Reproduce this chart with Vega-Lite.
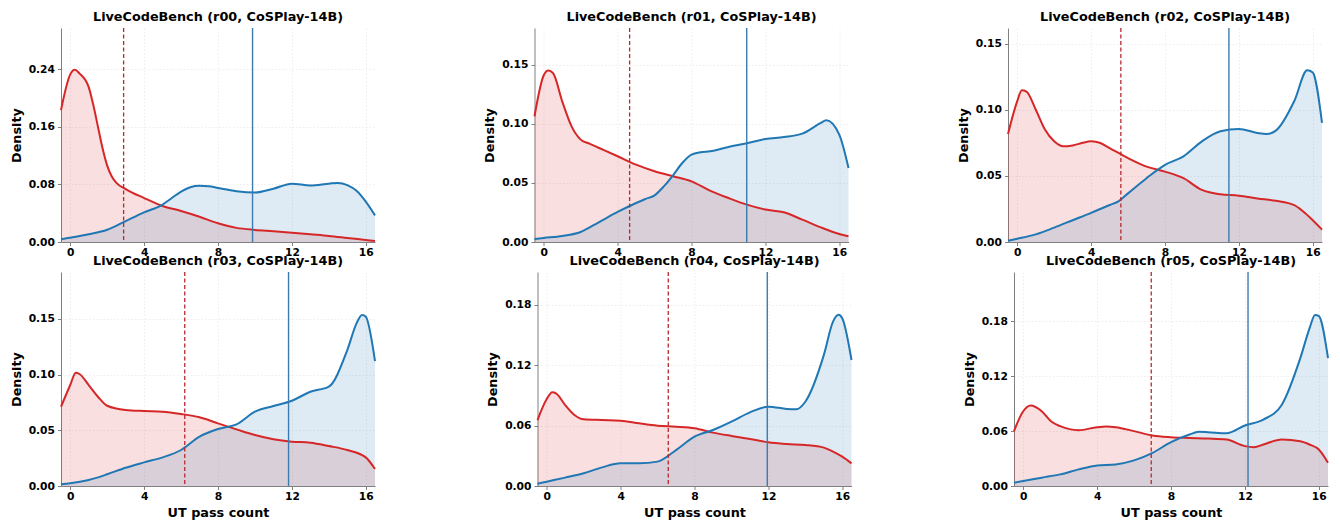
{
  "$schema": "https://vega.github.io/schema/vega-lite/v6.json",
  "padding": {"left": 10, "top": 10, "right": 5, "bottom": 5},
  "datasets": {
    "rows": [
      {"run":"r00","grp":"incorrect","x":-0.5,"y":0.183},{"run":"r00","grp":"incorrect","x":0,"y":0.2326},{"run":"r00","grp":"incorrect","x":0.25,"y":0.239},{"run":"r00","grp":"incorrect","x":0.5,"y":0.234},{"run":"r00","grp":"incorrect","x":1,"y":0.215},{"run":"r00","grp":"incorrect","x":1.25,"y":0.19},{"run":"r00","grp":"incorrect","x":1.5,"y":0.16},{"run":"r00","grp":"incorrect","x":1.75,"y":0.13},{"run":"r00","grp":"incorrect","x":2,"y":0.106},{"run":"r00","grp":"incorrect","x":2.25,"y":0.091},{"run":"r00","grp":"incorrect","x":2.5,"y":0.082},{"run":"r00","grp":"incorrect","x":3,"y":0.0735},{"run":"r00","grp":"incorrect","x":4,"y":0.061},{"run":"r00","grp":"incorrect","x":5,"y":0.05},{"run":"r00","grp":"incorrect","x":6,"y":0.043},{"run":"r00","grp":"incorrect","x":7,"y":0.035},{"run":"r00","grp":"incorrect","x":8,"y":0.026},{"run":"r00","grp":"incorrect","x":9,"y":0.0196},{"run":"r00","grp":"incorrect","x":10,"y":0.0168},{"run":"r00","grp":"incorrect","x":11,"y":0.015},{"run":"r00","grp":"incorrect","x":12,"y":0.013},{"run":"r00","grp":"incorrect","x":13,"y":0.0107},{"run":"r00","grp":"incorrect","x":14,"y":0.0084},{"run":"r00","grp":"incorrect","x":15,"y":0.0056},{"run":"r00","grp":"incorrect","x":16,"y":0.0028},{"run":"r00","grp":"incorrect","x":16.5,"y":0.0014},
      {"run":"r00","grp":"correct","x":-0.5,"y":0.0037},{"run":"r00","grp":"correct","x":0,"y":0.006},{"run":"r00","grp":"correct","x":1,"y":0.0107},{"run":"r00","grp":"correct","x":2,"y":0.017},{"run":"r00","grp":"correct","x":3,"y":0.029},{"run":"r00","grp":"correct","x":4,"y":0.041},{"run":"r00","grp":"correct","x":5,"y":0.052},{"run":"r00","grp":"correct","x":5.5,"y":0.061},{"run":"r00","grp":"correct","x":6,"y":0.07},{"run":"r00","grp":"correct","x":6.5,"y":0.076},{"run":"r00","grp":"correct","x":7,"y":0.078},{"run":"r00","grp":"correct","x":7.5,"y":0.0775},{"run":"r00","grp":"correct","x":8,"y":0.075},{"run":"r00","grp":"correct","x":9,"y":0.0705},{"run":"r00","grp":"correct","x":10,"y":0.0687},{"run":"r00","grp":"correct","x":11,"y":0.074},{"run":"r00","grp":"correct","x":12,"y":0.081},{"run":"r00","grp":"correct","x":13,"y":0.0785},{"run":"r00","grp":"correct","x":14,"y":0.081},{"run":"r00","grp":"correct","x":14.5,"y":0.082},{"run":"r00","grp":"correct","x":15,"y":0.079},{"run":"r00","grp":"correct","x":15.5,"y":0.071},{"run":"r00","grp":"correct","x":16,"y":0.056},{"run":"r00","grp":"correct","x":16.5,"y":0.037},
      {"run":"r00","grp":"incorrect","x":2.89},{"run":"r00","grp":"correct","x":9.87},

      {"run":"r01","grp":"incorrect","x":-0.5,"y":0.1063},{"run":"r01","grp":"incorrect","x":0,"y":0.141},{"run":"r01","grp":"incorrect","x":0.25,"y":0.145},{"run":"r01","grp":"incorrect","x":0.5,"y":0.143},{"run":"r01","grp":"incorrect","x":1,"y":0.119},{"run":"r01","grp":"incorrect","x":1.5,"y":0.098},{"run":"r01","grp":"incorrect","x":2,"y":0.0866},{"run":"r01","grp":"incorrect","x":2.5,"y":0.083},{"run":"r01","grp":"incorrect","x":3,"y":0.0795},{"run":"r01","grp":"incorrect","x":4,"y":0.0725},{"run":"r01","grp":"incorrect","x":5,"y":0.0654},{"run":"r01","grp":"incorrect","x":6,"y":0.0598},{"run":"r01","grp":"incorrect","x":7,"y":0.0556},{"run":"r01","grp":"incorrect","x":8,"y":0.0513},{"run":"r01","grp":"incorrect","x":9,"y":0.0434},{"run":"r01","grp":"incorrect","x":10,"y":0.0372},{"run":"r01","grp":"incorrect","x":11,"y":0.0316},{"run":"r01","grp":"incorrect","x":12,"y":0.0274},{"run":"r01","grp":"incorrect","x":13,"y":0.0251},{"run":"r01","grp":"incorrect","x":14,"y":0.0189},{"run":"r01","grp":"incorrect","x":15,"y":0.0124},{"run":"r01","grp":"incorrect","x":16,"y":0.0068},{"run":"r01","grp":"incorrect","x":16.5,"y":0.0048},
      {"run":"r01","grp":"correct","x":-0.5,"y":0.0025},{"run":"r01","grp":"correct","x":0,"y":0.0034},{"run":"r01","grp":"correct","x":1,"y":0.0051},{"run":"r01","grp":"correct","x":2,"y":0.0085},{"run":"r01","grp":"correct","x":3,"y":0.0169},{"run":"r01","grp":"correct","x":4,"y":0.0254},{"run":"r01","grp":"correct","x":5,"y":0.033},{"run":"r01","grp":"correct","x":5.5,"y":0.0364},{"run":"r01","grp":"correct","x":6,"y":0.0395},{"run":"r01","grp":"correct","x":6.5,"y":0.047},{"run":"r01","grp":"correct","x":7,"y":0.0564},{"run":"r01","grp":"correct","x":7.5,"y":0.0668},{"run":"r01","grp":"correct","x":8,"y":0.0739},{"run":"r01","grp":"correct","x":8.5,"y":0.0759},{"run":"r01","grp":"correct","x":9,"y":0.0767},{"run":"r01","grp":"correct","x":10,"y":0.0804},{"run":"r01","grp":"correct","x":11,"y":0.0835},{"run":"r01","grp":"correct","x":12,"y":0.0871},{"run":"r01","grp":"correct","x":13,"y":0.0888},{"run":"r01","grp":"correct","x":14,"y":0.0917},{"run":"r01","grp":"correct","x":15,"y":0.1007},{"run":"r01","grp":"correct","x":15.3,"y":0.103},{"run":"r01","grp":"correct","x":16,"y":0.0908},{"run":"r01","grp":"correct","x":16.5,"y":0.0626},
      {"run":"r01","grp":"incorrect","x":4.65},{"run":"r01","grp":"correct","x":10.99},

      {"run":"r02","grp":"incorrect","x":-0.5,"y":0.0818},{"run":"r02","grp":"incorrect","x":0,"y":0.1067},{"run":"r02","grp":"incorrect","x":0.25,"y":0.1148},{"run":"r02","grp":"incorrect","x":0.5,"y":0.1138},{"run":"r02","grp":"incorrect","x":1,"y":0.1003},{"run":"r02","grp":"incorrect","x":1.5,"y":0.0851},{"run":"r02","grp":"incorrect","x":2,"y":0.0762},{"run":"r02","grp":"incorrect","x":2.5,"y":0.0724},{"run":"r02","grp":"incorrect","x":3,"y":0.0731},{"run":"r02","grp":"incorrect","x":3.5,"y":0.0749},{"run":"r02","grp":"incorrect","x":4,"y":0.0762},{"run":"r02","grp":"incorrect","x":4.5,"y":0.0749},{"run":"r02","grp":"incorrect","x":5,"y":0.0711},{"run":"r02","grp":"incorrect","x":6,"y":0.0635},{"run":"r02","grp":"incorrect","x":7,"y":0.0571},{"run":"r02","grp":"incorrect","x":8,"y":0.0533},{"run":"r02","grp":"incorrect","x":9,"y":0.0483},{"run":"r02","grp":"incorrect","x":10,"y":0.0394},{"run":"r02","grp":"incorrect","x":11,"y":0.0361},{"run":"r02","grp":"incorrect","x":12,"y":0.0351},{"run":"r02","grp":"incorrect","x":13,"y":0.033},{"run":"r02","grp":"incorrect","x":14,"y":0.0312},{"run":"r02","grp":"incorrect","x":15,"y":0.0279},{"run":"r02","grp":"incorrect","x":15.5,"y":0.0229},{"run":"r02","grp":"incorrect","x":16,"y":0.0165},{"run":"r02","grp":"incorrect","x":16.5,"y":0.0094},
      {"run":"r02","grp":"correct","x":-0.5,"y":0.001},{"run":"r02","grp":"correct","x":0,"y":0.0025},{"run":"r02","grp":"correct","x":1,"y":0.0058},{"run":"r02","grp":"correct","x":2,"y":0.0109},{"run":"r02","grp":"correct","x":3,"y":0.0165},{"run":"r02","grp":"correct","x":4,"y":0.0221},{"run":"r02","grp":"correct","x":5,"y":0.028},{"run":"r02","grp":"correct","x":5.5,"y":0.031},{"run":"r02","grp":"correct","x":6,"y":0.0368},{"run":"r02","grp":"correct","x":7,"y":0.0483},{"run":"r02","grp":"correct","x":8,"y":0.0584},{"run":"r02","grp":"correct","x":9,"y":0.0648},{"run":"r02","grp":"correct","x":10,"y":0.0762},{"run":"r02","grp":"correct","x":11,"y":0.0838},{"run":"r02","grp":"correct","x":12,"y":0.0856},{"run":"r02","grp":"correct","x":13,"y":0.0826},{"run":"r02","grp":"correct","x":13.5,"y":0.0818},{"run":"r02","grp":"correct","x":14,"y":0.0843},{"run":"r02","grp":"correct","x":15,"y":0.1067},{"run":"r02","grp":"correct","x":15.7,"y":0.13},{"run":"r02","grp":"correct","x":16,"y":0.1283},{"run":"r02","grp":"correct","x":16.5,"y":0.0902},
      {"run":"r02","grp":"incorrect","x":5.61},{"run":"r02","grp":"correct","x":11.46},

      {"run":"r03","grp":"incorrect","x":-0.5,"y":0.0711},{"run":"r03","grp":"incorrect","x":0,"y":0.0906},{"run":"r03","grp":"incorrect","x":0.3,"y":0.1017},{"run":"r03","grp":"incorrect","x":0.5,"y":0.1005},{"run":"r03","grp":"incorrect","x":1,"y":0.0906},{"run":"r03","grp":"incorrect","x":1.5,"y":0.0801},{"run":"r03","grp":"incorrect","x":2,"y":0.072},{"run":"r03","grp":"incorrect","x":3,"y":0.0682},{"run":"r03","grp":"incorrect","x":4,"y":0.0673},{"run":"r03","grp":"incorrect","x":5,"y":0.0667},{"run":"r03","grp":"incorrect","x":6,"y":0.0646},{"run":"r03","grp":"incorrect","x":7,"y":0.0616},{"run":"r03","grp":"incorrect","x":8,"y":0.0562},{"run":"r03","grp":"incorrect","x":9,"y":0.0508},{"run":"r03","grp":"incorrect","x":10,"y":0.0457},{"run":"r03","grp":"incorrect","x":11,"y":0.0419},{"run":"r03","grp":"incorrect","x":12,"y":0.0398},{"run":"r03","grp":"incorrect","x":13,"y":0.0389},{"run":"r03","grp":"incorrect","x":14,"y":0.0359},{"run":"r03","grp":"incorrect","x":15,"y":0.0323},{"run":"r03","grp":"incorrect","x":16,"y":0.0257},{"run":"r03","grp":"incorrect","x":16.5,"y":0.0152},
      {"run":"r03","grp":"correct","x":-0.5,"y":0.0015},{"run":"r03","grp":"correct","x":0,"y":0.0024},{"run":"r03","grp":"correct","x":1,"y":0.0054},{"run":"r03","grp":"correct","x":2,"y":0.0105},{"run":"r03","grp":"correct","x":3,"y":0.0164},{"run":"r03","grp":"correct","x":4,"y":0.0212},{"run":"r03","grp":"correct","x":5,"y":0.0257},{"run":"r03","grp":"correct","x":6,"y":0.0323},{"run":"r03","grp":"correct","x":7,"y":0.0443},{"run":"r03","grp":"correct","x":8,"y":0.0511},{"run":"r03","grp":"correct","x":9,"y":0.0553},{"run":"r03","grp":"correct","x":10,"y":0.0667},{"run":"r03","grp":"correct","x":11,"y":0.0718},{"run":"r03","grp":"correct","x":12,"y":0.0765},{"run":"r03","grp":"correct","x":13,"y":0.0846},{"run":"r03","grp":"correct","x":14,"y":0.0891},{"run":"r03","grp":"correct","x":15,"y":0.122},{"run":"r03","grp":"correct","x":15.5,"y":0.1459},{"run":"r03","grp":"correct","x":15.8,"y":0.1534},{"run":"r03","grp":"correct","x":16,"y":0.1519},{"run":"r03","grp":"correct","x":16.5,"y":0.1121},
      {"run":"r03","grp":"incorrect","x":6.2},{"run":"r03","grp":"correct","x":11.82},

      {"run":"r04","grp":"incorrect","x":-0.5,"y":0.0655},{"run":"r04","grp":"incorrect","x":0,"y":0.0864},{"run":"r04","grp":"incorrect","x":0.3,"y":0.093},{"run":"r04","grp":"incorrect","x":0.5,"y":0.092},{"run":"r04","grp":"incorrect","x":1,"y":0.0804},{"run":"r04","grp":"incorrect","x":1.5,"y":0.0705},{"run":"r04","grp":"incorrect","x":2,"y":0.0662},{"run":"r04","grp":"incorrect","x":3,"y":0.0655},{"run":"r04","grp":"incorrect","x":4,"y":0.0649},{"run":"r04","grp":"incorrect","x":5,"y":0.0622},{"run":"r04","grp":"incorrect","x":6,"y":0.0599},{"run":"r04","grp":"incorrect","x":7,"y":0.0589},{"run":"r04","grp":"incorrect","x":8,"y":0.0573},{"run":"r04","grp":"incorrect","x":9,"y":0.053},{"run":"r04","grp":"incorrect","x":10,"y":0.0497},{"run":"r04","grp":"incorrect","x":11,"y":0.0467},{"run":"r04","grp":"incorrect","x":12,"y":0.0434},{"run":"r04","grp":"incorrect","x":13,"y":0.0417},{"run":"r04","grp":"incorrect","x":14,"y":0.0407},{"run":"r04","grp":"incorrect","x":15,"y":0.0381},{"run":"r04","grp":"incorrect","x":15.5,"y":0.0341},{"run":"r04","grp":"incorrect","x":16,"y":0.0291},{"run":"r04","grp":"incorrect","x":16.5,"y":0.0225},
      {"run":"r04","grp":"correct","x":-0.5,"y":0.0023},{"run":"r04","grp":"correct","x":0,"y":0.0043},{"run":"r04","grp":"correct","x":1,"y":0.0083},{"run":"r04","grp":"correct","x":2,"y":0.0126},{"run":"r04","grp":"correct","x":3,"y":0.0185},{"run":"r04","grp":"correct","x":4,"y":0.0225},{"run":"r04","grp":"correct","x":5,"y":0.0225},{"run":"r04","grp":"correct","x":6,"y":0.0242},{"run":"r04","grp":"correct","x":7,"y":0.0357},{"run":"r04","grp":"correct","x":8,"y":0.049},{"run":"r04","grp":"correct","x":9,"y":0.0556},{"run":"r04","grp":"correct","x":10,"y":0.0639},{"run":"r04","grp":"correct","x":11,"y":0.0731},{"run":"r04","grp":"correct","x":12,"y":0.0788},{"run":"r04","grp":"correct","x":13,"y":0.0765},{"run":"r04","grp":"correct","x":13.5,"y":0.0761},{"run":"r04","grp":"correct","x":14,"y":0.0837},{"run":"r04","grp":"correct","x":15,"y":0.13},{"run":"r04","grp":"correct","x":15.5,"y":0.1632},{"run":"r04","grp":"correct","x":15.8,"y":0.17},{"run":"r04","grp":"correct","x":16,"y":0.1665},{"run":"r04","grp":"correct","x":16.5,"y":0.1251},
      {"run":"r04","grp":"incorrect","x":6.58},{"run":"r04","grp":"correct","x":11.94},

      {"run":"r05","grp":"incorrect","x":-0.5,"y":0.06},{"run":"r05","grp":"incorrect","x":0,"y":0.0817},{"run":"r05","grp":"incorrect","x":0.4,"y":0.088},{"run":"r05","grp":"incorrect","x":1,"y":0.0817},{"run":"r05","grp":"incorrect","x":1.5,"y":0.0708},{"run":"r05","grp":"incorrect","x":2,"y":0.0654},{"run":"r05","grp":"incorrect","x":3,"y":0.061},{"run":"r05","grp":"incorrect","x":4,"y":0.0643},{"run":"r05","grp":"incorrect","x":4.5,"y":0.065},{"run":"r05","grp":"incorrect","x":5,"y":0.0643},{"run":"r05","grp":"incorrect","x":6,"y":0.06},{"run":"r05","grp":"incorrect","x":7,"y":0.0552},{"run":"r05","grp":"incorrect","x":8,"y":0.0534},{"run":"r05","grp":"incorrect","x":9,"y":0.0526},{"run":"r05","grp":"incorrect","x":10,"y":0.0519},{"run":"r05","grp":"incorrect","x":11,"y":0.0508},{"run":"r05","grp":"incorrect","x":12,"y":0.0436},{"run":"r05","grp":"incorrect","x":12.5,"y":0.0425},{"run":"r05","grp":"incorrect","x":13,"y":0.0454},{"run":"r05","grp":"incorrect","x":14,"y":0.0508},{"run":"r05","grp":"incorrect","x":15,"y":0.049},{"run":"r05","grp":"incorrect","x":15.5,"y":0.0454},{"run":"r05","grp":"incorrect","x":16,"y":0.0399},{"run":"r05","grp":"incorrect","x":16.5,"y":0.0254},
      {"run":"r05","grp":"correct","x":-0.5,"y":0.0036},{"run":"r05","grp":"correct","x":0,"y":0.0054},{"run":"r05","grp":"correct","x":1,"y":0.0091},{"run":"r05","grp":"correct","x":2,"y":0.0127},{"run":"r05","grp":"correct","x":3,"y":0.0182},{"run":"r05","grp":"correct","x":4,"y":0.0225},{"run":"r05","grp":"correct","x":5,"y":0.0236},{"run":"r05","grp":"correct","x":6,"y":0.028},{"run":"r05","grp":"correct","x":7,"y":0.0363},{"run":"r05","grp":"correct","x":8,"y":0.0479},{"run":"r05","grp":"correct","x":9,"y":0.0563},{"run":"r05","grp":"correct","x":9.5,"y":0.0592},{"run":"r05","grp":"correct","x":10,"y":0.0588},{"run":"r05","grp":"correct","x":11,"y":0.0577},{"run":"r05","grp":"correct","x":12,"y":0.0661},{"run":"r05","grp":"correct","x":13,"y":0.0726},{"run":"r05","grp":"correct","x":14,"y":0.0889},{"run":"r05","grp":"correct","x":15,"y":0.1398},{"run":"r05","grp":"correct","x":15.5,"y":0.1724},{"run":"r05","grp":"correct","x":15.8,"y":0.187},{"run":"r05","grp":"correct","x":16,"y":0.1859},{"run":"r05","grp":"correct","x":16.5,"y":0.1398},
      {"run":"r05","grp":"incorrect","x":6.93},{"run":"r05","grp":"correct","x":12.17}
    ]
  },
  "vconcat": [
    {
      "spacing": 104.5,
      "hconcat": [
        {
          "width": 314, "height": 214,
          "title": "LiveCodeBench (r00, CoSPlay-14B)",
          "data": {"name": "rows"},
          "transform": [{"filter": "datum.run === 'r00'"}],
          "encoding": {"x": {"field": "x", "type": "quantitative", "scale": {"domain": [-0.5, 16.5], "nice": false, "zero": false}, "axis": {"values": [0, 4, 8, 12, 16], "format": "d", "title": null}}},
          "layer": [
            {"transform": [{"filter": "isValid(datum.y)"}], "mark": {"type": "area", "interpolate": "monotone", "fillOpacity": 0.15}, "encoding": {"y": {"field": "y", "type": "quantitative", "stack": null, "scale": {"domain": [0, 0.297], "nice": false}, "axis": {"values": [0, 0.08, 0.16, 0.24], "format": ".2f", "title": "Density"}}, "color": {"field": "grp", "type": "nominal", "scale": {"domain": ["incorrect", "correct"], "range": ["#d62728", "#1f77b4"]}, "legend": null}}},
            {"transform": [{"filter": "isValid(datum.y)"}], "mark": {"type": "line", "interpolate": "monotone", "strokeWidth": 2}, "encoding": {"y": {"field": "y", "type": "quantitative", "stack": null, "scale": {"domain": [0, 0.297], "nice": false}, "axis": {"values": [0, 0.08, 0.16, 0.24], "format": ".2f", "title": "Density"}}, "color": {"field": "grp", "type": "nominal", "scale": {"domain": ["incorrect", "correct"], "range": ["#d62728", "#1f77b4"]}, "legend": null}}},
            {"transform": [{"filter": "!isValid(datum.y) && datum.grp === 'incorrect'"}], "mark": {"type": "rule", "color": "#b8282d", "strokeWidth": 1.3, "strokeDash": [4, 2.5]}, "encoding": {}},
            {"transform": [{"filter": "!isValid(datum.y) && datum.grp === 'correct'"}], "mark": {"type": "rule", "color": "#3b7bb0", "strokeWidth": 1.4}, "encoding": {}}
          ]
        },
        {
          "width": 314, "height": 214,
          "title": "LiveCodeBench (r01, CoSPlay-14B)",
          "data": {"name": "rows"},
          "transform": [{"filter": "datum.run === 'r01'"}],
          "encoding": {"x": {"field": "x", "type": "quantitative", "scale": {"domain": [-0.5, 16.5], "nice": false, "zero": false}, "axis": {"values": [0, 4, 8, 12, 16], "format": "d", "title": null}}},
          "layer": [
            {"transform": [{"filter": "isValid(datum.y)"}], "mark": {"type": "area", "interpolate": "monotone", "fillOpacity": 0.15}, "encoding": {"y": {"field": "y", "type": "quantitative", "stack": null, "scale": {"domain": [0, 0.181], "nice": false}, "axis": {"values": [0, 0.05, 0.1, 0.15], "format": ".2f", "title": "Density"}}, "color": {"field": "grp", "type": "nominal", "scale": {"domain": ["incorrect", "correct"], "range": ["#d62728", "#1f77b4"]}, "legend": null}}},
            {"transform": [{"filter": "isValid(datum.y)"}], "mark": {"type": "line", "interpolate": "monotone", "strokeWidth": 2}, "encoding": {"y": {"field": "y", "type": "quantitative", "stack": null, "scale": {"domain": [0, 0.181], "nice": false}, "axis": {"values": [0, 0.05, 0.1, 0.15], "format": ".2f", "title": "Density"}}, "color": {"field": "grp", "type": "nominal", "scale": {"domain": ["incorrect", "correct"], "range": ["#d62728", "#1f77b4"]}, "legend": null}}},
            {"transform": [{"filter": "!isValid(datum.y) && datum.grp === 'incorrect'"}], "mark": {"type": "rule", "color": "#b8282d", "strokeWidth": 1.3, "strokeDash": [4, 2.5]}, "encoding": {}},
            {"transform": [{"filter": "!isValid(datum.y) && datum.grp === 'correct'"}], "mark": {"type": "rule", "color": "#3b7bb0", "strokeWidth": 1.4}, "encoding": {}}
          ]
        },
        {
          "width": 314, "height": 214,
          "title": "LiveCodeBench (r02, CoSPlay-14B)",
          "data": {"name": "rows"},
          "transform": [{"filter": "datum.run === 'r02'"}],
          "encoding": {"x": {"field": "x", "type": "quantitative", "scale": {"domain": [-0.5, 16.5], "nice": false, "zero": false}, "axis": {"values": [0, 4, 8, 12, 16], "format": "d", "title": null}}},
          "layer": [
            {"transform": [{"filter": "isValid(datum.y)"}], "mark": {"type": "area", "interpolate": "monotone", "fillOpacity": 0.15}, "encoding": {"y": {"field": "y", "type": "quantitative", "stack": null, "scale": {"domain": [0, 0.162], "nice": false}, "axis": {"values": [0, 0.05, 0.1, 0.15], "format": ".2f", "title": "Density"}}, "color": {"field": "grp", "type": "nominal", "scale": {"domain": ["incorrect", "correct"], "range": ["#d62728", "#1f77b4"]}, "legend": null}}},
            {"transform": [{"filter": "isValid(datum.y)"}], "mark": {"type": "line", "interpolate": "monotone", "strokeWidth": 2}, "encoding": {"y": {"field": "y", "type": "quantitative", "stack": null, "scale": {"domain": [0, 0.162], "nice": false}, "axis": {"values": [0, 0.05, 0.1, 0.15], "format": ".2f", "title": "Density"}}, "color": {"field": "grp", "type": "nominal", "scale": {"domain": ["incorrect", "correct"], "range": ["#d62728", "#1f77b4"]}, "legend": null}}},
            {"transform": [{"filter": "!isValid(datum.y) && datum.grp === 'incorrect'"}], "mark": {"type": "rule", "color": "#b8282d", "strokeWidth": 1.3, "strokeDash": [4, 2.5]}, "encoding": {}},
            {"transform": [{"filter": "!isValid(datum.y) && datum.grp === 'correct'"}], "mark": {"type": "rule", "color": "#3b7bb0", "strokeWidth": 1.4}, "encoding": {}}
          ]
        }
      ]
    },
    {
      "spacing": 107.5,
      "hconcat": [
        {
          "width": 314, "height": 214,
          "title": "LiveCodeBench (r03, CoSPlay-14B)",
          "data": {"name": "rows"},
          "transform": [{"filter": "datum.run === 'r03'"}],
          "encoding": {"x": {"field": "x", "type": "quantitative", "scale": {"domain": [-0.5, 16.5], "nice": false, "zero": false}, "axis": {"values": [0, 4, 8, 12, 16], "format": "d", "title": "UT pass count"}}},
          "layer": [
            {"transform": [{"filter": "isValid(datum.y)"}], "mark": {"type": "area", "interpolate": "monotone", "fillOpacity": 0.15}, "encoding": {"y": {"field": "y", "type": "quantitative", "stack": null, "scale": {"domain": [0, 0.192], "nice": false}, "axis": {"values": [0, 0.05, 0.1, 0.15], "format": ".2f", "title": "Density"}}, "color": {"field": "grp", "type": "nominal", "scale": {"domain": ["incorrect", "correct"], "range": ["#d62728", "#1f77b4"]}, "legend": null}}},
            {"transform": [{"filter": "isValid(datum.y)"}], "mark": {"type": "line", "interpolate": "monotone", "strokeWidth": 2}, "encoding": {"y": {"field": "y", "type": "quantitative", "stack": null, "scale": {"domain": [0, 0.192], "nice": false}, "axis": {"values": [0, 0.05, 0.1, 0.15], "format": ".2f", "title": "Density"}}, "color": {"field": "grp", "type": "nominal", "scale": {"domain": ["incorrect", "correct"], "range": ["#d62728", "#1f77b4"]}, "legend": null}}},
            {"transform": [{"filter": "!isValid(datum.y) && datum.grp === 'incorrect'"}], "mark": {"type": "rule", "color": "#b8282d", "strokeWidth": 1.3, "strokeDash": [4, 2.5]}, "encoding": {}},
            {"transform": [{"filter": "!isValid(datum.y) && datum.grp === 'correct'"}], "mark": {"type": "rule", "color": "#3b7bb0", "strokeWidth": 1.4}, "encoding": {}}
          ]
        },
        {
          "width": 314, "height": 214,
          "title": "LiveCodeBench (r04, CoSPlay-14B)",
          "data": {"name": "rows"},
          "transform": [{"filter": "datum.run === 'r04'"}],
          "encoding": {"x": {"field": "x", "type": "quantitative", "scale": {"domain": [-0.5, 16.5], "nice": false, "zero": false}, "axis": {"values": [0, 4, 8, 12, 16], "format": "d", "title": "UT pass count"}}},
          "layer": [
            {"transform": [{"filter": "isValid(datum.y)"}], "mark": {"type": "area", "interpolate": "monotone", "fillOpacity": 0.15}, "encoding": {"y": {"field": "y", "type": "quantitative", "stack": null, "scale": {"domain": [0, 0.2125], "nice": false}, "axis": {"values": [0, 0.06, 0.12, 0.18], "format": ".2f", "title": "Density"}}, "color": {"field": "grp", "type": "nominal", "scale": {"domain": ["incorrect", "correct"], "range": ["#d62728", "#1f77b4"]}, "legend": null}}},
            {"transform": [{"filter": "isValid(datum.y)"}], "mark": {"type": "line", "interpolate": "monotone", "strokeWidth": 2}, "encoding": {"y": {"field": "y", "type": "quantitative", "stack": null, "scale": {"domain": [0, 0.2125], "nice": false}, "axis": {"values": [0, 0.06, 0.12, 0.18], "format": ".2f", "title": "Density"}}, "color": {"field": "grp", "type": "nominal", "scale": {"domain": ["incorrect", "correct"], "range": ["#d62728", "#1f77b4"]}, "legend": null}}},
            {"transform": [{"filter": "!isValid(datum.y) && datum.grp === 'incorrect'"}], "mark": {"type": "rule", "color": "#b8282d", "strokeWidth": 1.3, "strokeDash": [4, 2.5]}, "encoding": {}},
            {"transform": [{"filter": "!isValid(datum.y) && datum.grp === 'correct'"}], "mark": {"type": "rule", "color": "#3b7bb0", "strokeWidth": 1.4}, "encoding": {}}
          ]
        },
        {
          "width": 314, "height": 214,
          "title": "LiveCodeBench (r05, CoSPlay-14B)",
          "data": {"name": "rows"},
          "transform": [{"filter": "datum.run === 'r05'"}],
          "encoding": {"x": {"field": "x", "type": "quantitative", "scale": {"domain": [-0.5, 16.5], "nice": false, "zero": false}, "axis": {"values": [0, 4, 8, 12, 16], "format": "d", "title": "UT pass count"}}},
          "layer": [
            {"transform": [{"filter": "isValid(datum.y)"}], "mark": {"type": "area", "interpolate": "monotone", "fillOpacity": 0.15}, "encoding": {"y": {"field": "y", "type": "quantitative", "stack": null, "scale": {"domain": [0, 0.234], "nice": false}, "axis": {"values": [0, 0.06, 0.12, 0.18], "format": ".2f", "title": "Density"}}, "color": {"field": "grp", "type": "nominal", "scale": {"domain": ["incorrect", "correct"], "range": ["#d62728", "#1f77b4"]}, "legend": null}}},
            {"transform": [{"filter": "isValid(datum.y)"}], "mark": {"type": "line", "interpolate": "monotone", "strokeWidth": 2}, "encoding": {"y": {"field": "y", "type": "quantitative", "stack": null, "scale": {"domain": [0, 0.234], "nice": false}, "axis": {"values": [0, 0.06, 0.12, 0.18], "format": ".2f", "title": "Density"}}, "color": {"field": "grp", "type": "nominal", "scale": {"domain": ["incorrect", "correct"], "range": ["#d62728", "#1f77b4"]}, "legend": null}}},
            {"transform": [{"filter": "!isValid(datum.y) && datum.grp === 'incorrect'"}], "mark": {"type": "rule", "color": "#b8282d", "strokeWidth": 1.3, "strokeDash": [4, 2.5]}, "encoding": {}},
            {"transform": [{"filter": "!isValid(datum.y) && datum.grp === 'correct'"}], "mark": {"type": "rule", "color": "#3b7bb0", "strokeWidth": 1.4}, "encoding": {}}
          ]
        }
      ]
    }
  ],
  "spacing": -4,
  "config": {
    "view": {"stroke": null},
    "font": "DejaVu Sans",
    "axis": {
      "labelFont": "DejaVu Sans", "labelFontSize": 10.7, "labelFontWeight": "bold", "labelColor": "#000000",
      "titleFont": "DejaVu Sans", "titleFontSize": 12.8, "titleFontWeight": "bold", "titleColor": "#000000",
      "domainColor": "#808080", "domainWidth": 1, "tickColor": "#808080", "tickSize": 3.5, "tickWidth": 1,
      "gridColor": "#e8e8e8", "gridDash": [1.5, 2], "gridWidth": 0.8
    },
    "axisY": {"titlePadding": 5, "labelPadding": 3},
    "axisX": {"titlePadding": 5, "labelPadding": 2},
    "title": {"font": "DejaVu Sans", "fontSize": 12.8, "fontWeight": "bold", "color": "#000000", "offset": 4, "anchor": "middle"}
  }
}
